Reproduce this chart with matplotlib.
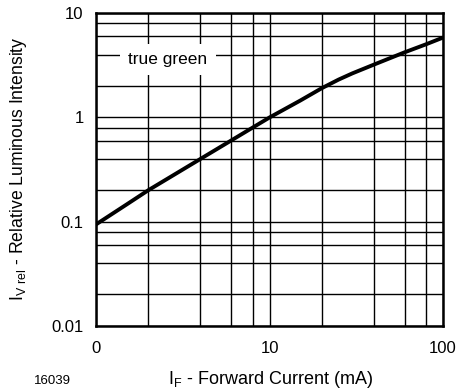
import matplotlib
matplotlib.use("Agg")
import matplotlib.pyplot as plt
from matplotlib.ticker import FixedLocator, FixedFormatter, NullFormatter

plt.rcParams['font.family'] = ['Liberation Sans', 'DejaVu Sans']
plt.rcParams['mathtext.fontset'] = 'custom'
plt.rcParams['mathtext.rm'] = 'Liberation Sans'

# Data
current_mA = [1, 1.5, 2, 3, 4, 6, 8, 10, 15, 20, 25, 30, 40, 60, 80, 100]
rel_intensity = [0.094, 0.146, 0.2, 0.3, 0.4, 0.6, 0.8, 1.0, 1.45, 1.91, 2.31, 2.65, 3.22, 4.22, 5.05, 5.85]

x_ticks = [1, 10, 100]
x_ticklabels = ["0", "10", "100"]
y_ticks = [0.01, 0.1, 1, 10]
y_ticklabels = ["0.01", "0.1", "1", "10"]
x_minor = [2, 4, 6, 8, 20, 40, 60, 80]
y_minor = [0.02, 0.04, 0.06, 0.08, 0.2, 0.4, 0.6, 0.8, 2, 4, 6, 8]

fig = plt.figure(figsize=(4.61, 3.92), dpi=100)
ax = fig.add_axes([0.2083, 0.169, 0.7527, 0.797])
ax.set_xscale('log')
ax.set_yscale('log')
ax.set_xlim(1, 100)
ax.set_ylim(0.01, 10)

ax.xaxis.set_major_locator(FixedLocator(x_ticks))
ax.xaxis.set_major_formatter(FixedFormatter(x_ticklabels))
ax.xaxis.set_minor_locator(FixedLocator(x_minor))
ax.xaxis.set_minor_formatter(NullFormatter())
ax.yaxis.set_major_locator(FixedLocator(y_ticks))
ax.yaxis.set_major_formatter(FixedFormatter(y_ticklabels))
ax.yaxis.set_minor_locator(FixedLocator(y_minor))
ax.yaxis.set_minor_formatter(NullFormatter())

ax.grid(True, which='both', color='black', linewidth=1.0, zorder=1)
ax.tick_params(which='both', length=0, labelsize=12, pad=9)
ax.tick_params(axis='x', pad=11)
for s in ax.spines.values():
    s.set_linewidth(1.8)

ax.plot(current_mA, rel_intensity, color='black', linewidth=2.8, zorder=3,
        solid_capstyle='butt', solid_joinstyle='round')

ax.text(2.586, 3.6, "true green", fontsize=12.5, ha='center', va='center', zorder=4,
        bbox=dict(facecolor='white', edgecolor='none', pad=6))

ax.set_xlabel(r'$\mathregular{I_F}$ - Forward Current (mA)', fontsize=13)
ax.xaxis.set_label_coords(0.504, -0.1396)
ax.set_ylabel(r'$\mathregular{I_{V\ rel}}$ - Relative Luminous Intensity', fontsize=12.7)
ax.yaxis.set_label_coords(-0.193, 0.503)

fig.text(52 / 461, 1 - 381 / 392, "16039", fontsize=9.5, ha='center', va='center')

fig.savefig("out.png", dpi=100)
